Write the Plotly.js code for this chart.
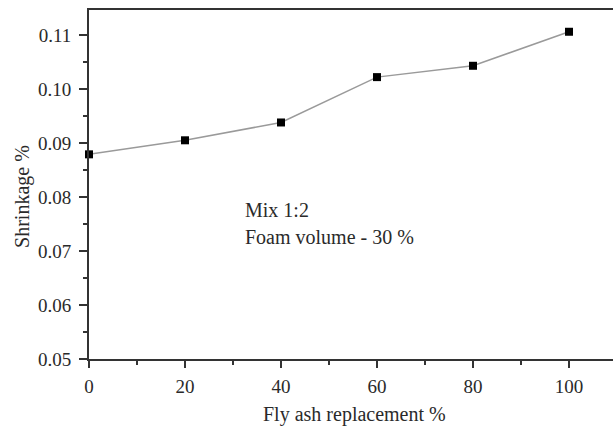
<!DOCTYPE html>
<html>
<head>
<meta charset="utf-8">
<script src="https://cdn.plot.ly/plotly-3.0.1.min.js"></script>
<style>html,body{margin:0;padding:0;background:#fff;}#chart{width:613px;height:427px;}</style>
</head>
<body>
<div id="chart"></div>
<script>
const flyAsh = [0, 20, 40, 60, 80, 100];
const shrinkage = [0.0879, 0.0905, 0.0938, 0.1022, 0.1043, 0.1106];
const xTicks = [0, 20, 40, 60, 80, 100];
const yTicks = [0.05, 0.06, 0.07, 0.08, 0.09, 0.10, 0.11];
const yTickLabels = ["0.05", "0.06", "0.07", "0.08", "0.09", "0.10", "0.11"];
const xTitle = "Fly ash replacement %";
const yTitle = "Shrinkage %";
const noteLines = ["Mix 1:2", "Foam volume - 30 %"];

const font = {family: "Liberation Serif, Times New Roman, serif", color: "#2a2a2a"};

const trace = {
  x: flyAsh, y: shrinkage, type: "scatter", mode: "lines+markers",
  line: {color: "#9a9a9a", width: 1.5},
  marker: {symbol: "square", size: 8, color: "#000"},
  cliponaxis: false
};

const layout = {
  width: 613, height: 427,
  margin: {l: 89, r: 0, t: 10, b: 68},
  paper_bgcolor: "#fff", plot_bgcolor: "#fff",
  showlegend: false,
  font: font,
  xaxis: {
    range: [0, 109.17], tickvals: xTicks, ticktext: xTicks.map(String),
    showgrid: false, zeroline: false, showline: true, linecolor: "#333", linewidth: 2,
    mirror: true, ticks: "outside", ticklen: 7, tickwidth: 2, tickcolor: "#333",
    ticklabelstandoff: 2,
    tickfont: Object.assign({size: 19}, font),
    minor: {dtick: 10, tick0: 0, ticks: "outside", ticklen: 4, tickwidth: 2, tickcolor: "#333", showgrid: false}
  },
  yaxis: {
    range: [0.05, 0.11463], tickvals: yTicks, ticktext: yTickLabels,
    showgrid: false, zeroline: false, showline: true, linecolor: "#333", linewidth: 2,
    mirror: false, ticks: "outside", ticklen: 8, tickwidth: 2, tickcolor: "#333",
    ticklabelstandoff: 4,
    tickfont: Object.assign({size: 19}, font),
    minor: {dtick: 0.005, tick0: 0.05, ticks: "outside", ticklen: 4, tickwidth: 2, tickcolor: "#333", showgrid: false}
  },
  annotations: [
    {text: xTitle, xref: "paper", yref: "paper", x: 0.506, y: -0.160, xanchor: "center", yanchor: "middle",
     showarrow: false, font: Object.assign({size: 20}, font)},
    {text: yTitle, xref: "paper", yref: "paper", x: -0.128, y: 0.467, xanchor: "center", yanchor: "middle",
     textangle: -90, showarrow: false, font: Object.assign({size: 20}, font)},
    {text: noteLines[0], xref: "paper", yref: "paper", x: 0.294, y: 0.427, xanchor: "left", yanchor: "middle",
     showarrow: false, font: Object.assign({size: 20}, font)},
    {text: noteLines[1], xref: "paper", yref: "paper", x: 0.294, y: 0.350, xanchor: "left", yanchor: "middle",
     showarrow: false, font: Object.assign({size: 20}, font)}
  ]
};

Plotly.newPlot("chart", [trace], layout, {staticPlot: true, displayModeBar: false});
</script>
</body>
</html>
